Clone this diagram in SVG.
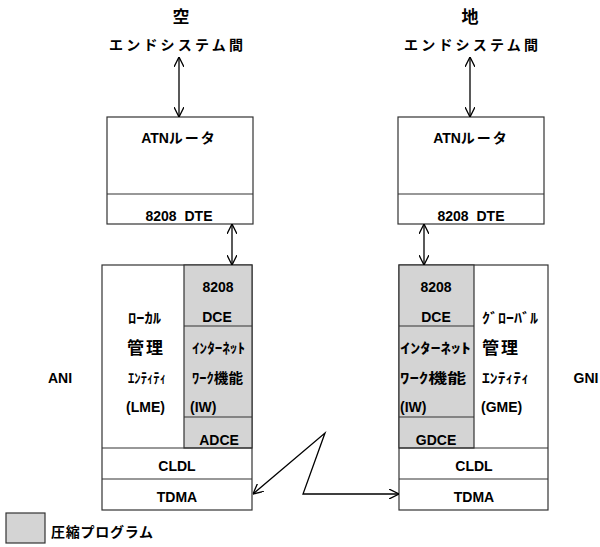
<svg xmlns="http://www.w3.org/2000/svg" width="600" height="547" viewBox="0 0 600 547">
<style>
.box{fill:#fff;stroke:#333;stroke-width:1.2}
.sh{fill:#d4d4d4;stroke:#333;stroke-width:1.2}
.ln{stroke:#333;stroke-width:1.2;fill:none}
.t{font-family:"Liberation Sans","Noto Sans CJK JP",sans-serif;font-size:14px;font-weight:bold;fill:#000}
.j{font-family:"Noto Sans CJK JP",sans-serif;font-size:14px;font-weight:bold;fill:#000}
.jb{font-family:"Noto Sans CJK JP",sans-serif;font-size:17px;font-weight:bold;fill:#000}
.c{text-anchor:middle}
.arr{stroke:#000;stroke-width:1.3;fill:none;marker-start:url(#ah);marker-end:url(#ah)}
</style>
<defs>
<marker id="ah" viewBox="0 0 10 10" refX="10" refY="5" markerWidth="10" markerHeight="10" markerUnits="userSpaceOnUse" orient="auto-start-reverse">
<path d="M0,0 L10,5 L0,10" fill="none" stroke="#000" stroke-width="1.3"/>
</marker>
</defs>

<g id="air-label">
<text class="jb c" x="181" y="23" font-size="16">空</text>
<text class="j c" x="176" y="50" textLength="134" lengthAdjust="spacing">エンドシステム間</text>
</g>
<g id="ground-label">
<text class="jb c" x="470" y="23" font-size="16">地</text>
<text class="j c" x="471" y="50" textLength="134" lengthAdjust="spacing">エンドシステム間</text>
</g>

<g id="atn-air">
<rect class="box" x="107" y="117" width="146" height="107"/>
<line class="ln" x1="107" y1="194" x2="253" y2="194"/>
<text class="t c" x="179" y="143">ATN<tspan class="j" letter-spacing="2">ルータ</tspan></text>
<text class="t c" x="179" y="221" word-spacing="4">8208 DTE</text>
</g>
<g id="atn-ground">
<rect class="box" x="398" y="117" width="146" height="107"/>
<line class="ln" x1="398" y1="194" x2="544" y2="194"/>
<text class="t c" x="471" y="143">ATN<tspan class="j" letter-spacing="2">ルータ</tspan></text>
<text class="t c" x="471" y="221" word-spacing="4">8208 DTE</text>
</g>

<g id="ani">
<rect class="box" x="102" y="265" width="150" height="245"/>
<rect class="sh" x="184" y="265" width="68" height="183"/>
<line class="ln" x1="184" y1="326" x2="252" y2="326"/>
<line class="ln" x1="184" y1="417" x2="252" y2="417"/>
<line class="ln" x1="102" y1="448" x2="252" y2="448"/>
<line class="ln" x1="102" y1="479" x2="252" y2="479"/>
<text class="t c" x="218" y="292">8208</text>
<text class="t c" x="217" y="322">DCE</text>
<text class="j" x="192" y="353" textLength="53" lengthAdjust="spacingAndGlyphs">ｲﾝﾀｰﾈｯﾄ</text>
<text class="j" x="192" y="383" textLength="51" lengthAdjust="spacingAndGlyphs">ﾜｰｸ機能</text>
<text class="t" x="190" y="412">(IW)</text>
<text class="t c" x="219" y="445">ADCE</text>
<text class="j" x="128" y="323" textLength="33" lengthAdjust="spacingAndGlyphs">ﾛｰｶﾙ</text>
<text class="jb" x="127" y="354" letter-spacing="2">管理</text>
<text class="j" x="128" y="383" textLength="38" lengthAdjust="spacingAndGlyphs">ｴﾝﾃｨﾃｨ</text>
<text class="t" x="126" y="412">(LME)</text>
<text class="t c" x="177" y="471">CLDL</text>
<text class="t c" x="177" y="502">TDMA</text>
<text class="t c" x="60" y="383">ANI</text>
</g>

<g id="gni">
<rect class="box" x="399" y="265" width="149" height="245"/>
<rect class="sh" x="399" y="265" width="75" height="183"/>
<line class="ln" x1="399" y1="326" x2="474" y2="326"/>
<line class="ln" x1="399" y1="417" x2="474" y2="417"/>
<line class="ln" x1="399" y1="448" x2="548" y2="448"/>
<line class="ln" x1="399" y1="479" x2="548" y2="479"/>
<text class="t c" x="436" y="292">8208</text>
<text class="t c" x="436" y="322">DCE</text>
<text class="j" x="400" y="353" textLength="71" lengthAdjust="spacingAndGlyphs">ｲﾝﾀｰﾈｯﾄ</text>
<text class="j" x="400" y="383" textLength="66" lengthAdjust="spacingAndGlyphs">ﾜｰｸ機能</text>
<text class="t" x="400" y="412">(IW)</text>
<text class="t c" x="436" y="445">GDCE</text>
<text class="j" x="482" y="323" textLength="56" lengthAdjust="spacingAndGlyphs">ｸﾞﾛｰﾊﾞﾙ</text>
<text class="jb" x="482" y="354" letter-spacing="2">管理</text>
<text class="j" x="482" y="383" textLength="47" lengthAdjust="spacingAndGlyphs">ｴﾝﾃｨﾃｨ</text>
<text class="t" x="481" y="412">(GME)</text>
<text class="t c" x="474" y="471">CLDL</text>
<text class="t c" x="474" y="502">TDMA</text>
<text class="t c" x="586" y="383" font-size="13">GNI</text>
</g>

<g id="legend">
<rect class="sh" x="6" y="513" width="39" height="30"/>
<text class="j" x="51" y="537" textLength="102" lengthAdjust="spacing">圧縮プログラム</text>
</g>

<g id="connectors">
<line class="arr" x1="179" y1="57" x2="179" y2="117"/>
<line class="arr" x1="470" y1="57" x2="470" y2="117"/>
<line class="arr" x1="232" y1="224" x2="232" y2="265"/>
<line class="arr" x1="424" y1="224" x2="424" y2="265"/>
<polyline class="arr" points="253,494 325,433 303,494 399,494"/>
</g>
</svg>
